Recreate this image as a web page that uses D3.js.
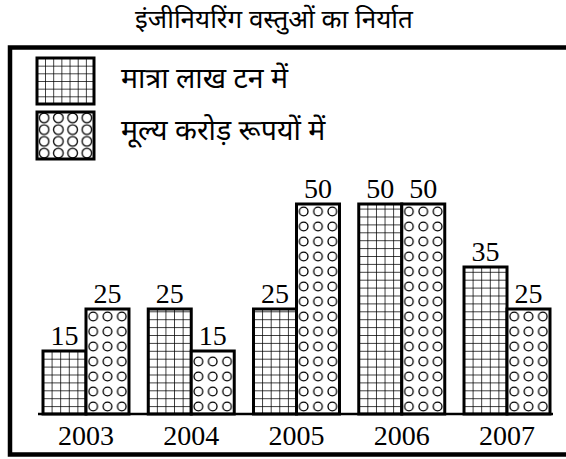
<!DOCTYPE html>
<html>
<head>
<meta charset="utf-8">
<script src="https://cdn.jsdelivr.net/npm/d3@7"></script>
<style>
    body { margin: 0; background: #fff; }
    svg { display: block; }
    .dev { font-family: "Noto Sans Devanagari", "Lohit Devanagari", "Mangal", sans-serif; }
    .num { font-family: "Liberation Serif", "Times New Roman", serif; }
</style>
</head>
<body>
<svg id="chart" width="566" height="459"></svg>
<script>
"use strict";

const titleText = "इंजीनियरिंग वस्तुओं का निर्यात";
const years = ["2003", "2004", "2005", "2006", "2007"];
const quantity = [15, 25, 25, 50, 35];   // मात्रा लाख टन में
const value = [25, 15, 50, 50, 25];      // मूल्य करोड़ रूपयों में
const seriesNames = ["मात्रा लाख टन में", "मूल्य करोड़ रूपयों में"];
const seriesKeys = ["qty", "val"];

const baseY = 414;
const svg = d3.select("#chart");
const defs = svg.append("defs");

const xScale = d3.scaleBand()
    .domain(years)
    .range([43, 550])
    .paddingInner(0.183)
    .paddingOuter(0);
const subScale = d3.scaleBand()
    .domain(seriesKeys)
    .range([0, xScale.bandwidth()]);
const yScale = d3.scaleLinear()
    .domain([0, 50])
    .range([baseY, 204]);

// grid or circles pattern anchored at (ox, oy)
function makePattern(id, kind, w, h, ox, oy, r) {
    let p = defs.append("pattern")
        .attr("id", id)
        .attr("patternUnits", "userSpaceOnUse")
        .attr("width", w)
        .attr("height", h)
        .attr("patternTransform", `translate(${ox},${oy})`);
    p.append("rect").attr("width", w).attr("height", h).attr("fill", "#fff");
    if (kind == "qty") {
        p.append("path")
            .attr("d", `M0,0H${w}M0,0V${h}`)
            .attr("stroke", "#000")
            .attr("stroke-width", 1.5)
            .attr("fill", "none");
    } else {
        p.append("circle")
            .attr("cx", w / 2).attr("cy", h / 2).attr("r", r)
            .attr("fill", "none")
            .attr("stroke", "#000")
            .attr("stroke-width", 1.3);
    }
    return `url(#${id})`;
}

// title
svg.append("text")
    .attr("class", "dev")
    .attr("x", 274)
    .attr("y", 28)
    .attr("text-anchor", "middle")
    .attr("font-size", 26)
    .text(titleText);

// frame (open on the right)
svg.append("path")
    .attr("d", "M566,47.5H10V454.5H566")
    .attr("fill", "none")
    .attr("stroke", "#000")
    .attr("stroke-width", 4.5);

// legend
const legendBoxes = [
    { key: "qty", y: 58, h: 46, cols: 7, rows: 6 },
    { key: "val", y: 112, h: 47, cols: 4, rows: 4 }
];
legendBoxes.forEach(function(b, i) {
    let w = 57;
    let fill = makePattern("leg-" + b.key, b.key, w / b.cols, b.h / b.rows, 37, b.y, 4.8);
    svg.append("rect")
        .attr("x", 37).attr("y", b.y)
        .attr("width", w).attr("height", b.h)
        .attr("fill", fill)
        .attr("stroke", "#000")
        .attr("stroke-width", 3);
    svg.append("text")
        .attr("class", "dev")
        .attr("x", 121)
        .attr("y", i == 0 ? 88 : 140)
        .attr("font-size", 28.5)
        .text(seriesNames[i]);
});

// bars
let bars = [];
years.forEach(function(yr, i) {
    bars.push({ year: yr, key: "qty", v: quantity[i] });
    bars.push({ year: yr, key: "val", v: value[i] });
});

const barW = subScale.bandwidth();
svg.selectAll("rect.bar")
    .data(bars)
    .join("rect")
    .attr("class", "bar")
    .attr("x", d => xScale(d.year) + subScale(d.key))
    .attr("y", d => yScale(d.v))
    .attr("width", barW)
    .attr("height", d => baseY - yScale(d.v))
    .attr("fill", function(d, i) {
        let x0 = xScale(d.year) + subScale(d.key);
        if (d.key == "qty") return makePattern("p" + i, "qty", barW / 5, 7.9, x0, baseY);
        return makePattern("p" + i, "val", barW / 3, 15, x0, baseY, 4.3);
    })
    .attr("stroke", "#000")
    .attr("stroke-width", 3);

// value labels
svg.selectAll("text.val")
    .data(bars)
    .join("text")
    .attr("class", "val num")
    .attr("x", d => xScale(d.year) + subScale(d.key) + barW / 2)
    .attr("y", d => yScale(d.v) - 6)
    .attr("text-anchor", "middle")
    .attr("font-size", 28)
    .text(d => d.v);

// baseline
svg.append("line")
    .attr("x1", 38).attr("x2", 553)
    .attr("y1", baseY).attr("y2", baseY)
    .attr("stroke", "#000")
    .attr("stroke-width", 2.5);

// year labels
svg.selectAll("text.year")
    .data(years)
    .join("text")
    .attr("class", "year num")
    .attr("x", d => xScale(d) + xScale.bandwidth() / 2)
    .attr("y", 445)
    .attr("text-anchor", "middle")
    .attr("font-size", 28)
    .text(d => d);
</script>
</body>
</html>
